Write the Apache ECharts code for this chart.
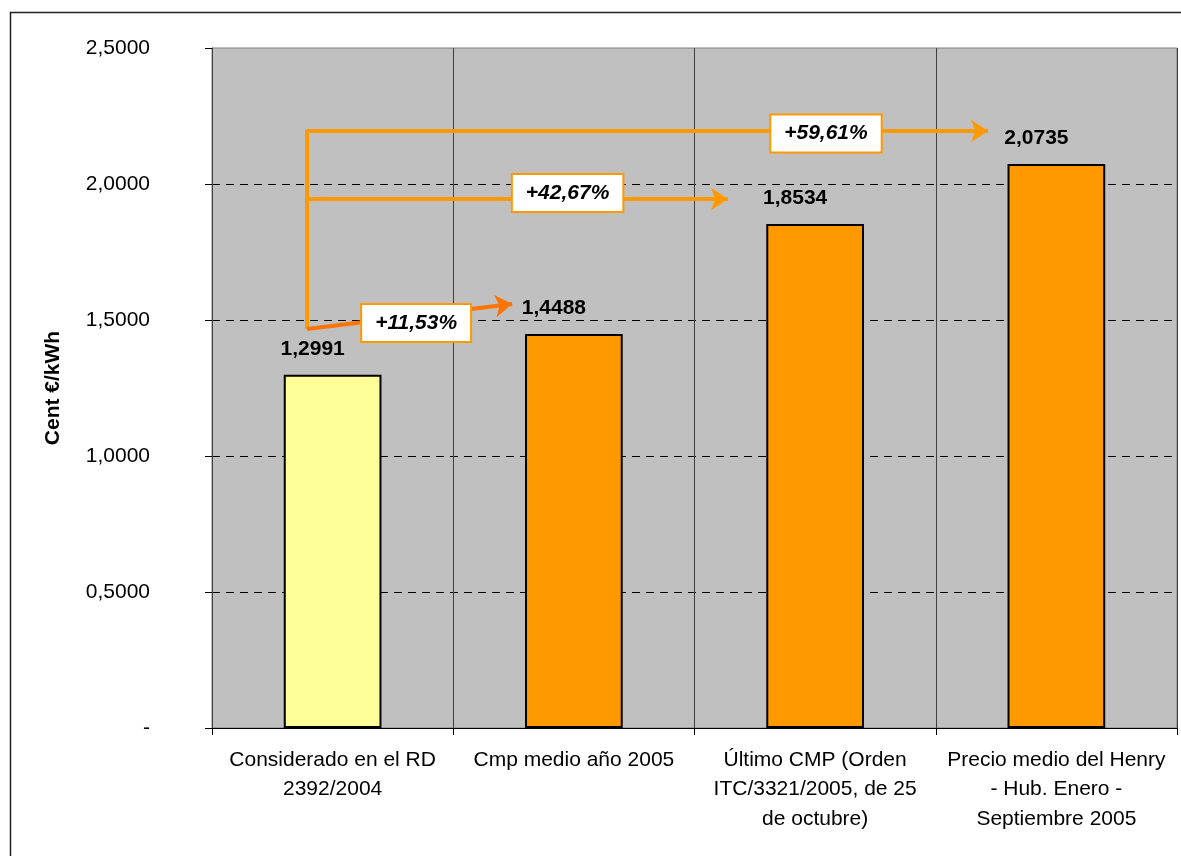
<!DOCTYPE html>
<html>
<head>
<meta charset="utf-8">
<script src="https://cdn.jsdelivr.net/npm/echarts@6/dist/echarts.min.js"></script>
<style>
  html, body { margin: 0; padding: 0; background: #fff; }
  #chart { width: 1181px; height: 856px; }
</style>
</head>
<body>
<div id="chart"></div>
<script>
// Gas price comparison (Cent €/kWh)
const categories = [
  'Considerado en el RD\n2392/2004',
  'Cmp medio año 2005',
  'Último CMP (Orden\nITC/3321/2005, de 25\nde octubre)',
  'Precio medio del Henry\n- Hub. Enero -\nSeptiembre 2005'
];
const values = [1.2991, 1.4488, 1.8534, 2.0735];
const barColors = ['#FFFF99', '#FF9900', '#FF9900', '#FF9900'];
const pctLabels = ['+11,53%', '+42,67%', '+59,61%'];

const FONT = '"Liberation Sans", Arial, sans-serif';
const ORANGE = '#FF9900';
const fmt = v => v.toFixed(4).replace('.', ',');

// Increase arrows drawn on an auxiliary value x-axis spanning the 4 categories
const x0 = 0.394;
const arrowLines = [
  // vertical connector from the base value up to the top arrow
  { coords: [[x0, 2.2], [x0, 1.467]], color: ORANGE, arrow: false },
  { coords: [[x0, 2.195], [3.217, 2.195]], color: ORANGE, arrow: true },
  { coords: [[x0, 1.945], [2.139, 1.945]], color: ORANGE, arrow: true },
  { coords: [[x0, 1.467], [1.244, 1.559]], color: '#FF7300', arrow: true }
];
const boxPos = [[0.846, 1.489], [1.474, 1.967], [2.545, 2.186]];

const chart = echarts.init(document.getElementById('chart'));
chart.setOption({
  animation: false,
  textStyle: { fontFamily: FONT },
  graphic: [{
    type: 'rect',
    shape: { x: 10.5, y: 12.5, width: 1200, height: 900 },
    style: { fill: 'none', stroke: '#222', lineWidth: 1.5 },
    silent: true
  }],
  grid: {
    left: 212, right: 4, top: 48, bottom: 128,
    show: true, backgroundColor: '#C0C0C0', borderColor: '#808080', borderWidth: 1
  },
  xAxis: [{
    type: 'category',
    data: categories,
    axisLine: { lineStyle: { color: '#000', width: 1 } },
    axisTick: { show: true, length: 7, lineStyle: { color: '#000' } },
    splitLine: { show: true, lineStyle: { color: '#404040', width: 1 } },
    axisLabel: {
      interval: 0, color: '#000', fontSize: 21, lineHeight: 29.5,
      margin: 17, fontFamily: FONT
    }
  }, {
    type: 'value', min: 0, max: 4, show: false
  }],
  yAxis: {
    type: 'value', min: 0, max: 2.5, interval: 0.5,
    name: 'Cent €/kWh', nameLocation: 'middle', nameGap: 148, nameRotate: 90,
    nameTextStyle: { fontSize: 21, fontWeight: 'bold', color: '#000', fontFamily: FONT },
    axisLine: { show: true, lineStyle: { color: '#404040', width: 1 } },
    axisTick: { show: true, length: 7, lineStyle: { color: '#000' } },
    axisLabel: {
      color: '#000', fontSize: 21, margin: 62, fontFamily: FONT,
      formatter: v => v === 0 ? '-' : fmt(v)
    },
    splitLine: {
      show: true, showMaxLine: false, showMinLine: false,
      lineStyle: { color: '#000', type: [8, 6], width: 1 }
    }
  },
  series: [{
    type: 'bar',
    data: values.map((v, i) => ({ value: v, itemStyle: { color: barColors[i] } })),
    barWidth: '40.5%',
    itemStyle: { borderColor: '#000', borderWidth: 2 },
    label: {
      show: true, position: 'top', distance: 15, offset: [-20, 0],
      fontSize: 21, fontWeight: 'bold', color: '#000', fontFamily: FONT,
      formatter: p => fmt(p.value)
    },
    z: 2
  }, {
    type: 'lines',
    coordinateSystem: 'cartesian2d',
    xAxisIndex: 1,
    z: 5,
    data: arrowLines.map(a => ({
      coords: a.coords,
      lineStyle: { color: a.color, width: 4 },
      symbol: a.arrow ? ['none', 'arrow'] : ['none', 'none']
    })),
    symbolSize: [14, 17],
    lineStyle: { opacity: 1, curveness: 0 }
  }, {
    type: 'scatter',
    xAxisIndex: 1,
    z: 6,
    symbolSize: 0,
    itemStyle: { opacity: 1 },
    data: boxPos.map((p, i) => ({ value: p, name: pctLabels[i] })),
    label: {
      show: true, position: 'inside',
      formatter: p => p.name,
      fontSize: 21, fontWeight: 'bold', fontStyle: 'italic', color: '#000', fontFamily: FONT,
      backgroundColor: '#fff', borderColor: ORANGE, borderWidth: 2,
      padding: [8, 13, 7, 13]
    }
  }]
});
</script>
</body>
</html>
